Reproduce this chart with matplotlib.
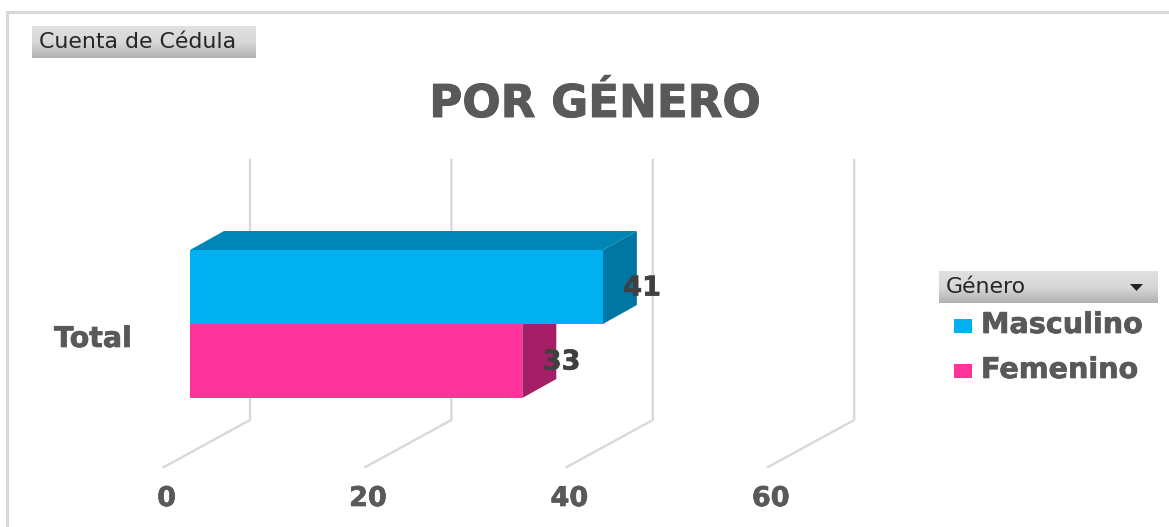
import numpy as np
import matplotlib
matplotlib.use("Agg")
import matplotlib.pyplot as plt
import matplotlib.patheffects as pe
from matplotlib.patches import Polygon, Rectangle

W, H = 1169, 527
# Data
category = "Total"
series = ["Masculino", "Femenino"]
values = [41, 33]
x_ticks = [0, 20, 40, 60]
title = "POR GÉNERO"
field_button = "Cuenta de Cédula"
legend_button = "Género"

front = ["#00B0F0", "#FF3399"]
top_col = ["#0086B6", "#C0267A"]
side = ["#0076A3", "#A61F66"]
GREY = "#595959"
GRID = "#D9D9D9"

X0, PX = 164.0, 10.07          # px of value 0 on the floor front, px per unit


def fx(px):
    return (px - X0) / PX


def heavy(width=0.5):
    return [pe.withStroke(linewidth=width, foreground=GREY)]


fig = plt.figure(figsize=(W / 100, H / 100), dpi=100, facecolor="white")
ax = fig.add_axes([0, 0, 1, 1])
ax.set_xlim(fx(0), fx(W))
ax.set_ylim(H, 0)
ax.axis("off")

DX, DY = 86 / PX, -47          # wall depth
BDX, BDY = 34 / PX, -19        # bar depth
BAR0 = 26 / PX                 # bars' base plane offset
bar_top = [250, 324]
bar_h = 74

# Frame
ax.plot([fx(7), fx(7), fx(W + 5)], [H + 5, 12, 12], color=GRID, lw=2.2, zorder=1,
        solid_joinstyle="miter")

# Gridlines + floor
for t in x_ticks:
    ax.plot([t, t + DX, t + DX], [467, 420, 160], color=GRID, lw=1.7, zorder=2, solid_joinstyle="miter")
    ax.text(t + 0.25, 499, str(t), ha="center", va="center", fontsize=19.5, fontweight="bold",
            family="DejaVu Sans", color=GREY, zorder=6, path_effects=heavy())

# 3D bars
for i, (v, yt) in enumerate(zip(values, bar_top)):
    xr = BAR0 + v
    yb = yt + bar_h
    if i == 0:
        ax.add_patch(Polygon([(BAR0, yt), (xr, yt), (xr + BDX, yt + BDY), (BAR0 + BDX, yt + BDY)],
                             closed=True, fc=top_col[i], ec="none", zorder=3))
    ax.add_patch(Polygon([(xr, yt), (xr + BDX, yt + BDY), (xr + BDX, yb + BDY), (xr, yb)],
                         closed=True, fc=side[i], ec="none", zorder=3))
    ax.barh(yt + bar_h / 2, v, height=bar_h, left=BAR0, color=front[i], zorder=4, linewidth=0)
    ax.text(xr + 3.9, yt + 38.5, str(v), ha="center", va="center", fontsize=19.5, fontweight="bold",
            family="DejaVu Sans", color="#404040", zorder=6,
            path_effects=[pe.withStroke(linewidth=0.5, foreground="#404040")])

# Category label
ax.text(fx(93), 339, category, ha="center", va="center", fontsize=20.5, fontweight="bold",
        family="DejaVu Sans", color=GREY, path_effects=heavy())

# Title
ax.text(fx(595), 117, title, ha="center", va="baseline", fontsize=32.5, fontweight="bold",
        family="DejaVu Sans", color=GREY, path_effects=heavy(0.7))

# Gradient buttons
grad = np.linspace(0, 1, 64).reshape(-1, 1)
cmap = matplotlib.colors.LinearSegmentedColormap.from_list("b", ["#E0E0E0", "#D8D8D8", "#B2B2B2"])
for (x1, x2, y1, y2) in [(32, 256, 26, 58), (939, 1158, 271, 303)]:
    ax.imshow(grad, extent=[fx(x1), fx(x2), y2, y1], cmap=cmap, aspect="auto", zorder=3)
ax.set_xlim(fx(0), fx(W))
ax.set_ylim(H, 0)
ax.text(fx(39), 42, field_button, ha="left", va="center", fontsize=15.8, family="DejaVu Sans",
        color="#262626", zorder=5)
ax.text(fx(946), 287, legend_button, ha="left", va="center", fontsize=15.8, family="DejaVu Sans",
        color="#262626", zorder=5)
ax.add_patch(Polygon([(fx(1130), 284), (fx(1143), 284), (fx(1136.5), 291)], closed=True,
                     fc="#222222", ec="none", zorder=5))

# Legend
for name, c, y in zip(series, front, [326, 371]):
    ax.add_patch(Rectangle((fx(953.5), y - 7), 18.5 / PX, 14, fc=c, ec="none", zorder=5))
    ax.text(fx(981), y - 1, name, ha="left", va="center", fontsize=20.6, fontweight="bold",
            family="DejaVu Sans", color=GREY, zorder=5, path_effects=heavy())

fig.savefig("out.png", dpi=100, facecolor="white")
